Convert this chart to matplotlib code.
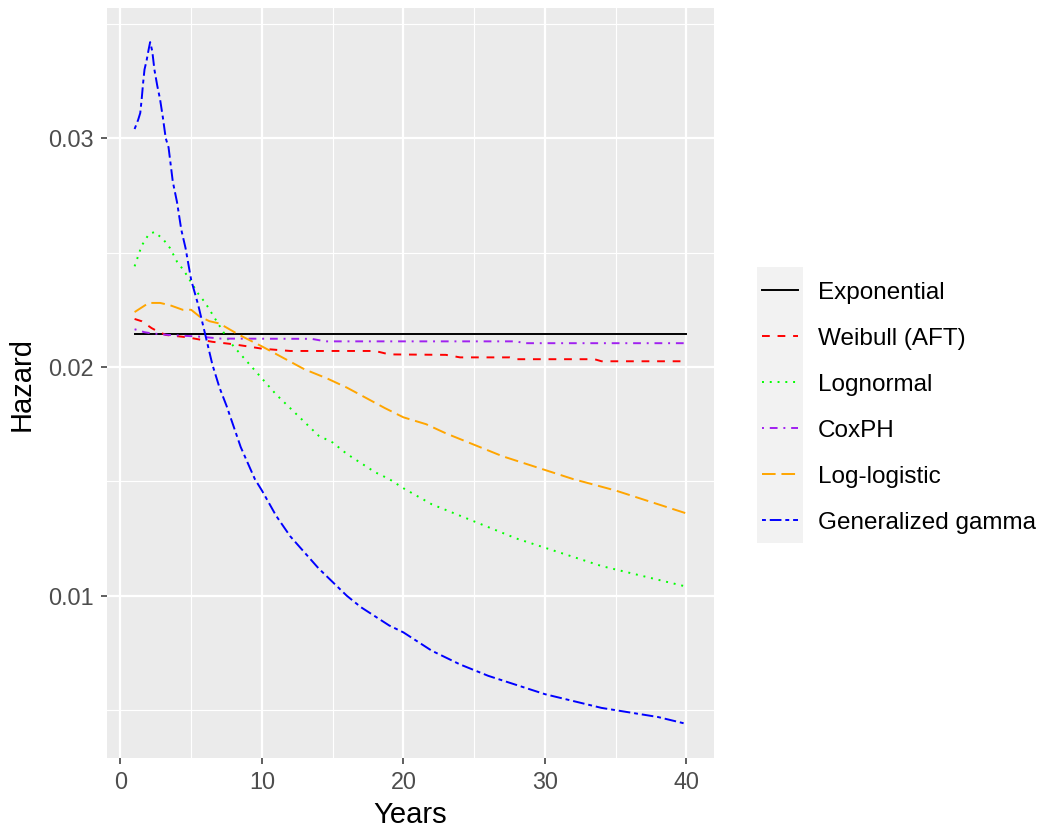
import matplotlib
matplotlib.use('Agg')
from matplotlib import pyplot as plt
import matplotlib.ticker as mtick

plt.rcParams['font.family'] = ['Liberation Sans', 'DejaVu Sans']

# 数据: 各模型的风险函数 (Years -> Hazard)
exp_years = [1, 40]
exp_hazard = [0.02142, 0.02142]

weib_years = [1, 1.5, 2.2, 2.5, 3.2, 4.7, 5.6, 6.5, 7.9, 9, 10, 12, 18, 19, 23, 24, 27.5, 28, 33.5, 34, 40]
weib_hazard = [0.0221, 0.0220, 0.0217, 0.0216, 0.0214, 0.0213, 0.0212, 0.0211, 0.0210, 0.0209, 0.0208,
               0.0207, 0.0207, 0.02055, 0.02053, 0.02042, 0.02042, 0.02034, 0.02034, 0.02025, 0.02025]

lnorm_years = [1, 1.5, 2, 2.4, 3, 3.5, 4, 4.5, 5, 5.5, 6, 6.5, 7, 7.5, 8, 9, 10, 11, 12, 13, 14, 15,
               16, 17, 18, 19, 20, 22, 24, 26, 28, 30, 32, 34, 36, 38, 40]
lnorm_hazard = [0.0244, 0.0253, 0.0258, 0.0259, 0.0256, 0.0252, 0.0246, 0.0242, 0.0237, 0.0232, 0.0228,
                0.0223, 0.0218, 0.0213, 0.0209, 0.0202, 0.0195, 0.0188, 0.0182, 0.0176, 0.0170, 0.0167,
                0.0162, 0.0158, 0.0154, 0.0151, 0.0147, 0.0140, 0.0135, 0.0130, 0.0125, 0.0121, 0.0117,
                0.0113, 0.0110, 0.0107, 0.0104]

cox_years = [1, 1.7, 2.2, 3.4, 5.5, 7.1, 13.5, 14.5, 28, 28.5, 40]
cox_hazard = [0.02165, 0.02152, 0.02147, 0.0214, 0.02133, 0.02124, 0.02123, 0.02112, 0.02112, 0.02104, 0.02104]

llog_years = [1, 1.5, 2, 2.8, 3.5, 4.4, 5, 5.6, 6.3, 7, 8.4, 10, 11.5, 13, 14.6, 16, 17.2, 18.7, 20,
              21.6, 23, 25, 27, 30, 32, 35, 37, 40]
llog_hazard = [0.0224, 0.0226, 0.0228, 0.0228, 0.0227, 0.0225, 0.0225, 0.0222, 0.0220, 0.0219, 0.0214,
               0.0209, 0.0204, 0.0199, 0.0195, 0.0191, 0.0187, 0.0182, 0.0178, 0.0175, 0.0171, 0.0166,
               0.0161, 0.0155, 0.0151, 0.0146, 0.0142, 0.0136]

gg_years = [1, 1.25, 1.4, 1.5, 1.6, 1.7, 1.85, 2.0, 2.1, 2.25, 2.4, 2.6, 2.8, 3.0, 3.2, 3.4, 3.7, 4.0,
            4.3, 4.6, 5.0, 5.5, 6.0, 6.5, 7.0, 7.5, 8.0, 8.5, 9.0, 9.5, 10, 11, 12, 13, 14, 15, 16, 17,
            18, 19, 20, 22, 24, 26, 28, 30, 32, 34, 36, 38, 40]
gg_hazard = [0.0304, 0.0308, 0.0311, 0.0317, 0.0324, 0.0330, 0.0334, 0.0339, 0.0342, 0.0338, 0.0330,
             0.0323, 0.0317, 0.0309, 0.0300, 0.0296, 0.0281, 0.0272, 0.0260, 0.0252, 0.0238, 0.0227,
             0.0214, 0.0201, 0.0191, 0.0183, 0.0174, 0.0165, 0.0158, 0.0151, 0.0146, 0.0135, 0.0126,
             0.0119, 0.0112, 0.0106, 0.0100, 0.0095, 0.0091, 0.0087, 0.0084, 0.0076, 0.0070, 0.0065,
             0.0061, 0.0057, 0.0054, 0.0051, 0.0049, 0.0047, 0.0044]

labels = ['Exponential', 'Weibull (AFT)', 'Lognormal', 'CoxPH', 'Log-logistic', 'Generalized gamma']
colors = ['black', '#FF0000', '#00FF00', '#A020F0', '#FFA500', '#0000FF']
# R 的线型: solid, dashed, dotted, dotdash, longdash, twodash
styles = ['-', (0, (4, 4)), (0, (1, 3)), (0, (1, 3, 4, 3)), (0, (7, 3)), (0, (2, 2, 6, 2))]
series = [(exp_years, exp_hazard), (weib_years, weib_hazard), (lnorm_years, lnorm_hazard),
          (cox_years, cox_hazard), (llog_years, llog_hazard), (gg_years, gg_hazard)]

lw = 1.4
fig = plt.figure(figsize=(10.45, 8.31), dpi=100)
ax = fig.add_axes([107 / 1045, 1 - 758 / 831, 607 / 1045, 750 / 831])
ax.set_facecolor('#EBEBEB')
for s in ax.spines.values():
    s.set_visible(False)

for (x, y), c, ls in zip(series, colors, styles):
    ax.plot(x, y, color=c, linestyle=ls, linewidth=lw, zorder=3)

ax.margins(x=0.05, y=0.05)
ax.set_xticks([0, 10, 20, 30, 40])
ax.set_xticks([5, 15, 25, 35], minor=True)
ax.set_yticks([0.01, 0.02, 0.03])
ax.set_yticks([0.005, 0.015, 0.025, 0.035], minor=True)
ax.yaxis.set_major_formatter(mtick.FormatStrFormatter('%.2f'))
ax.grid(which='major', color='white', linewidth=1.6, zorder=0)
ax.grid(which='minor', color='white', linewidth=0.8, zorder=0)
ax.set_axisbelow(True)
ax.tick_params(which='major', length=4.5, width=1.1, color='#333333', labelcolor='#4D4D4D',
               labelsize=16.8, pad=5)
ax.tick_params(which='minor', length=0)

fig.text(410 / 1045, 1 - 815 / 831, 'Years', fontsize=21, ha='center', va='center')
fig.text(22 / 1045, 1 - 384 / 831, 'Hazard', fontsize=21, ha='center', va='center', rotation=90)

# 图例 (手工绘制)
lax = fig.add_axes([757 / 1045, 1 - 543 / 831, 46 / 1045, 276 / 831])
lax.set_facecolor('#F2F2F2')
lax.set_xlim(0, 1)
lax.set_ylim(0, 6)
lax.set_xticks([])
lax.set_yticks([])
for s in lax.spines.values():
    s.set_visible(False)
for i, (lab, c, ls) in enumerate(zip(labels, colors, styles)):
    yc = 5.5 - i
    lax.plot([0.1, 0.9], [yc, yc], color=c, linestyle=ls, linewidth=lw)
    fig.text(818 / 1045, 1 - (293 + 46 * i) / 831, lab, fontsize=17.5, ha='left', va='center')

plt.savefig('out.png', dpi=100)
